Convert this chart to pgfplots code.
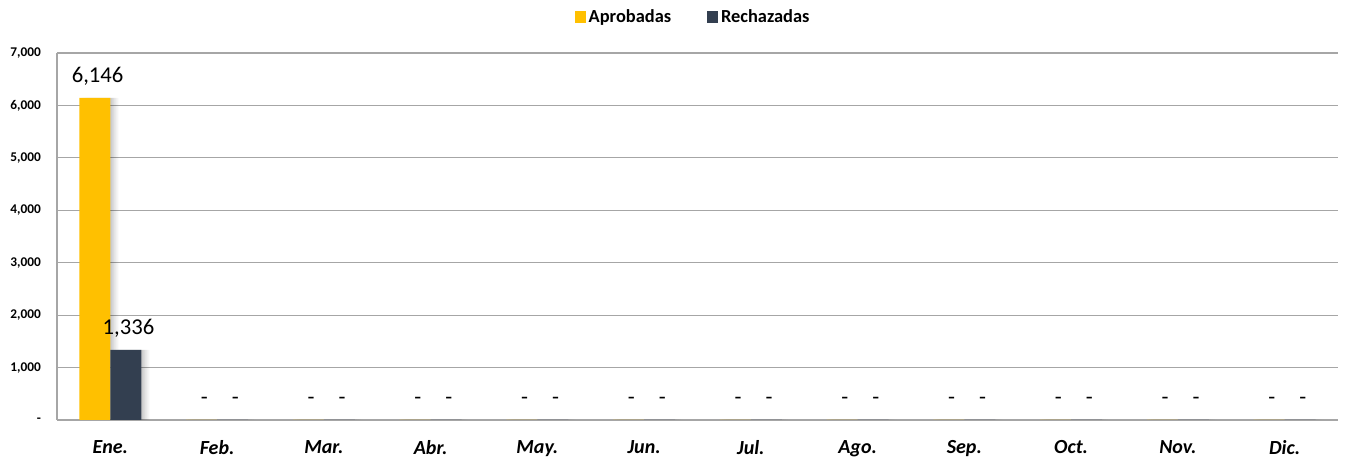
\documentclass[border=0pt]{standalone}
\usepackage{fontspec}
\setmainfont{Carlito}
\usepackage{pgfplots}
\pgfplotsset{compat=1.18}
\definecolor{aprob}{HTML}{FFC000}
\definecolor{rech}{HTML}{333F50}
\definecolor{gridc}{HTML}{A6A6A6}
\tikzset{barshadow/.style={
  preaction={fill=black,opacity=0.07,transform canvas={xshift=1.5pt}},
  preaction={fill=black,opacity=0.06,transform canvas={xshift=3pt}},
  preaction={fill=black,opacity=0.05,transform canvas={xshift=4.5pt}},
  preaction={fill=black,opacity=0.04,transform canvas={xshift=6pt}}}}
\begin{document}
\begin{tikzpicture}
\begin{axis}[name=ax, scale only axis, width=960.75pt, height=275.25pt,
  ybar, bar width=0.29,
  xmin=-0.5, xmax=11.5, ymin=0, ymax=7000,
  xtick={0,...,11},
  xticklabels={Ene.,Feb.,Mar.,Abr.,May.,Jun.,Jul.,Ago.,Sep.,Oct.,Nov.,Dic.},
  ytick={0,1000,...,7000},
  yticklabels={-,{1,000},{2,000},{3,000},{4,000},{5,000},{6,000},{7,000}},
  axis x line*=bottom, axis y line*=left,
  ymajorgrids, grid style={gridc, line width=0.8pt},
  axis line style={-, gridc, line width=0.8pt},
  major tick length=0pt,
  xticklabel style={font=\bfseries\itshape\fontsize{15}{18}\selectfont, yshift=-12pt, text=black},
  yticklabel style={font=\bfseries\fontsize{10}{12}\selectfont, xshift=-8.5pt, text=black},
  nodes near coords, point meta=explicit symbolic,
  nodes near coords style={font=\fontsize{17}{20}\selectfont, anchor=base, yshift=11.5pt, xshift=2pt, text=black},
  legend style={at={(0.5,1)}, anchor=center, yshift=27pt, xshift=-3pt, draw=none, fill=none,
    legend columns=2, font=\bfseries\fontsize{13.8}{16}\selectfont,
    /tikz/every even column/.append style={column sep=25pt},
    /tikz/every odd column/.append style={column sep=0pt},
    inner sep=0pt},
  legend image code/.code={\fill[#1] (0pt,-4.2pt) rectangle (8.4pt,4.2pt);},
]
\addlegendimage{fill=aprob, draw=none}
\addlegendentry{Aprobadas}
\addlegendimage{fill=rech, draw=none}
\addlegendentry{Rechazadas}
\addplot[fill=aprob, draw=none, barshadow, bar shift=-0.145, forget plot] coordinates {
  (0,6146) [6,146] (1,0) [-] (2,0) [-] (3,0) [-] (4,0) [-] (5,0) [-]
  (6,0) [-] (7,0) [-] (8,0) [-] (9,0) [-] (10,0) [-] (11,0) [-]};
\addplot[fill=rech, draw=none, barshadow, bar shift=0.145, forget plot] coordinates {
  (0,1336) [1,336] (1,0) [-] (2,0) [-] (3,0) [-] (4,0) [-] (5,0) [-]
  (6,0) [-] (7,0) [-] (8,0) [-] (9,0) [-] (10,0) [-] (11,0) [-]};
\end{axis}
\useasboundingbox ([xshift=-42.75pt, yshift=-31.5pt]ax.south west) rectangle ([xshift=12pt, yshift=39.75pt]ax.north east);
\end{tikzpicture}
\end{document}
